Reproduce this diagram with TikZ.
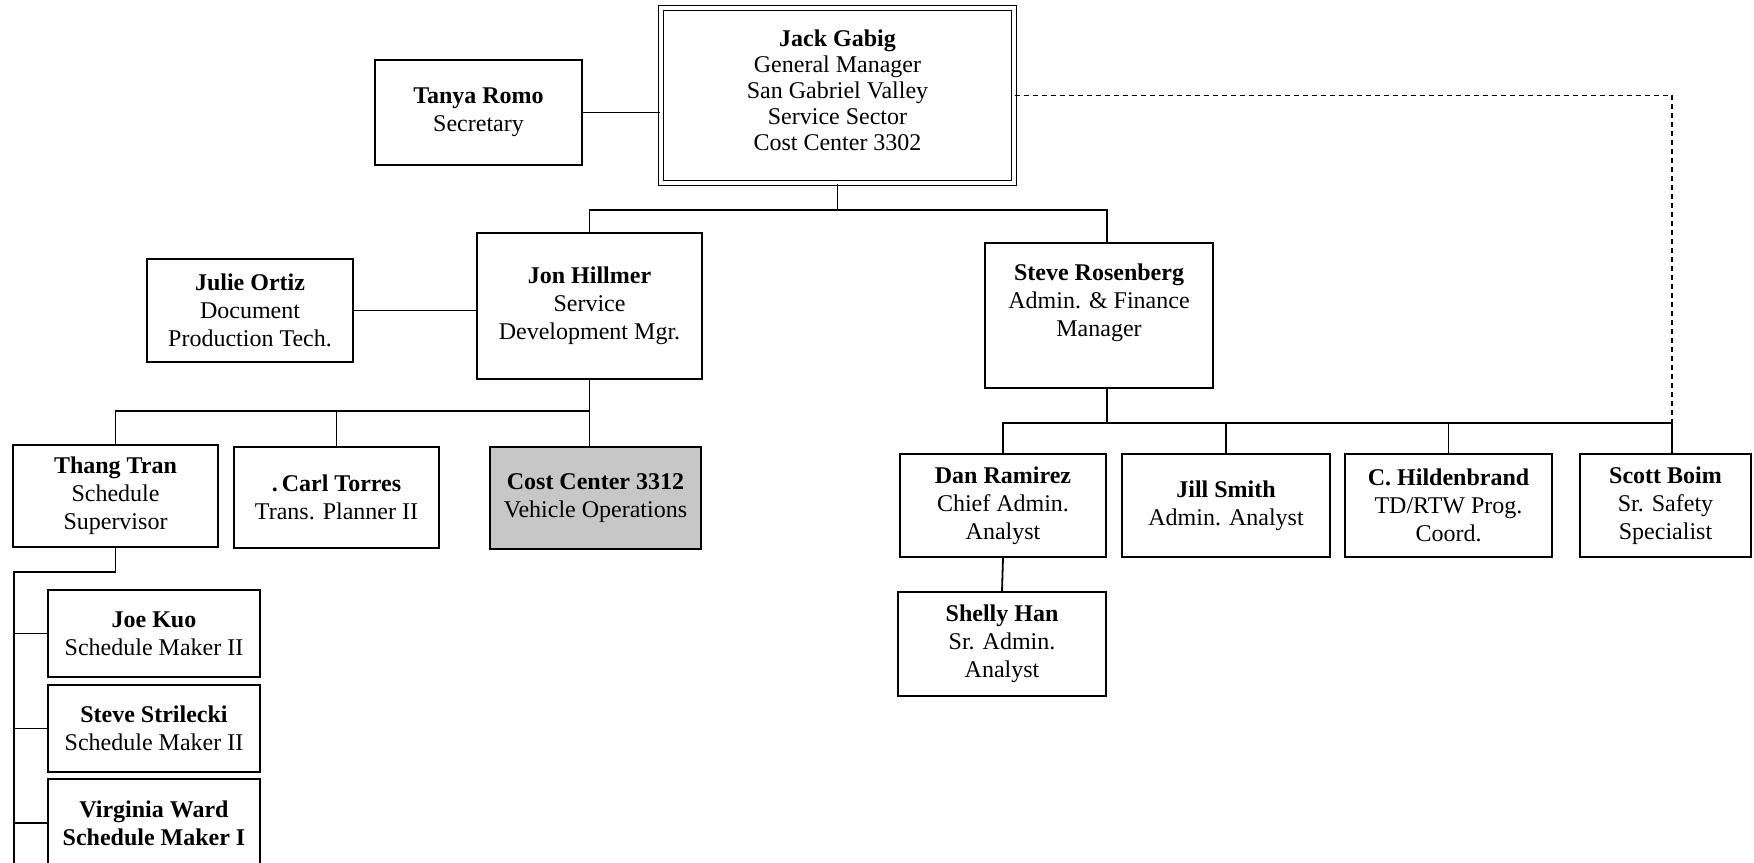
\documentclass[tikz,border=0pt]{standalone}
\usepackage{fontspec}
\setmainfont{Liberation Serif}
\usetikzlibrary{calc}
\tikzset{
  box/.style={draw, line width=0.9pt, align=center, inner sep=0pt, font=\fontsize{12}{14}\selectfont},
  sz/.style 2 args={minimum width=#1*0.5pt, minimum height=#2*0.5pt},
  plaintext/.style={align=center, inner sep=0pt, font=\fontsize{12}{14}\selectfont},
  link/.style={line width=0.9pt},
  dotlink/.style={line width=0.8pt, dash pattern=on 2.5pt off 2pt}
}
\begin{document}
\begin{tikzpicture}[x=0.5pt,y=-0.5pt]
\useasboundingbox (0,0) rectangle (1754,862);
\clip (0,0) rectangle (1754,862);
\fill[white] (0,0) rectangle (1754,862);

% nodes
\node[box, sz={353}{175}, double, double distance=1.6pt, line width=0.6pt] (jack) at (837.5,95.5) {};
\node[plaintext, font=\fontsize{12}{13}\selectfont] (jacktext) at (837.5,90)
  {\textbf{Jack Gabig}\\General Manager\\San Gabriel Valley\\Service Sector\\Cost Center 3302};
\node[box, sz={207}{105}] (tanya) at (478.5,112.5) {\textbf{Tanya Romo}\\Secretary};
\node[box, sz={206}{103}] (julie) at (250,310.5) {\textbf{Julie Ortiz}\\Document\\Production Tech.};
\node[box, sz={225}{146}] (jon) at (589.5,306) {\textbf{Jon Hillmer}\\Service\\Development Mgr.};
\node[box, sz={228}{145}] (steve) at (1099,315.5) {};
\node[plaintext] (stevetext) at (1099,303) {\textbf{Steve Rosenberg}\\Admin. \& Finance\\Manager};
\node[box, sz={205}{102}] (thang) at (115.5,496) {\textbf{Thang Tran}\\Schedule\\Supervisor};
\node[box, sz={205}{101}] (carl) at (336.5,497.5) {\textbf{.\,Carl Torres}\\Trans. Planner II};
\node[box, sz={211}{102}, fill=black!22] (cc) at (595.5,498) {\textbf{Cost Center 3312}\\Vehicle Operations};
\node[box, sz={212}{87}] (joe) at (154,633.5) {\textbf{Joe Kuo}\\Schedule Maker II};
\node[box, sz={212}{87}] (stril) at (154,728.5) {\textbf{Steve Strilecki}\\Schedule Maker II};
\node[box, sz={212}{88}] (virg) at (154,823) {\textbf{Virginia Ward}\\\textbf{Schedule Maker I}};
\node[box, sz={206}{103}] (dan) at (1003,505.5) {\textbf{Dan Ramirez}\\Chief Admin.\\Analyst};
\node[box, sz={208}{103}] (jill) at (1226,505.5) {\textbf{Jill Smith}\\Admin. Analyst};
\node[box, sz={207}{103}] (hild) at (1448.5,505.5) {\textbf{C. Hildenbrand}\\TD/RTW Prog.\\Coord.};
\node[box, sz={171}{103}] (scott) at (1665.5,505.5) {\textbf{Scott Boim}\\Sr. Safety\\Specialist};
\node[box, sz={208}{104}] (shelly) at (1002,644) {\textbf{Shelly Han}\\Sr. Admin.\\Analyst};

% coordinates
\coordinate (topbus) at (837.5,210);
\coordinate (jonbus) at (592,411);
\coordinate (thangbus) at (14,572);
\coordinate (thangend) at (14,870);
\coordinate (stevebus) at (1107,423);
\coordinate (dcorner) at (1672,93);

% connectors
\draw[link] (tanya.east) -- (tanya.east -| jack.west);
\draw[link] (jack.south) -- (topbus);
\draw[link] (jon.north) -- (jon.north |- topbus) -- ($(steve.north |- topbus)+(8,0)$) -- ($(steve.north)+(8,0)$);
\draw[link] (julie.east) -- (julie.east -| jon.west);
\draw[link] (jon.south) -- (jon.south |- cc.north);
\draw[link] (thang.north) -- (thang.north |- jonbus) -- (jon.south |- jonbus);
\draw[link] (carl.north) -- (carl.north |- jonbus);
\draw[link] (thang.south) -- (thang.south |- thangbus) -- (thangbus) -- (thangend);
\draw[link] (joe.west) -- (joe.west -| thangbus);
\draw[link] (stril.west) -- (stril.west -| thangbus);
\draw[link] (virg.west) -- (virg.west -| thangbus);
\draw[link] ($(steve.south)+(8,0)$) -- (stevebus);
\draw[link] (dan.north) -- (dan.north |- stevebus) -- ($(scott.north |- stevebus)+(6.5,0)$) -- ($(scott.north)+(6.5,0)$);
\draw[link] (jill.north) -- (jill.north |- stevebus);
\draw[link] (hild.north) -- (hild.north |- stevebus);
\draw[link] (dan.south) -- (shelly.north);
\draw[dotlink] (jack.east) -- (jack.east -| dcorner) -- (scott.north -| dcorner);
\end{tikzpicture}
\end{document}
